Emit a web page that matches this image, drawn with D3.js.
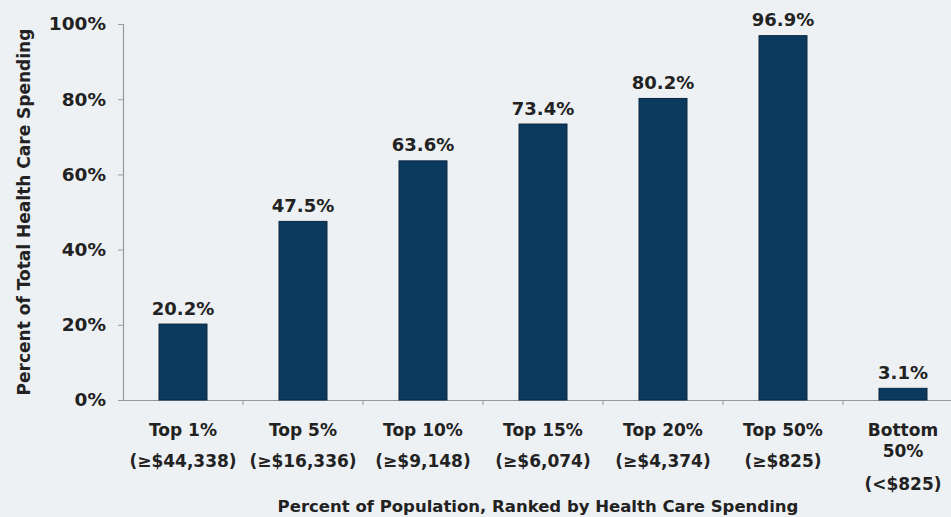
<!DOCTYPE html>
<html>
<head>
<meta charset="utf-8">
<script src="https://cdn.jsdelivr.net/npm/d3@7"></script>
<style>
  html, body { margin: 0; padding: 0; background: #eef1f4; }
  svg { display: block; }
  text { font-family: "DejaVu Sans", Verdana, sans-serif; font-weight: bold; fill: #222; }
</style>
</head>
<body>
<script>
// Share of total health care spending by population group
const groups = ["Top 1%", "Top 5%", "Top 10%", "Top 15%", "Top 20%", "Top 50%", "Bottom 50%"];
const groupLines = [
  ["Top 1%", "(≥$44,338)"],
  ["Top 5%", "(≥$16,336)"],
  ["Top 10%", "(≥$9,148)"],
  ["Top 15%", "(≥$6,074)"],
  ["Top 20%", "(≥$4,374)"],
  ["Top 50%", "(≥$825)"],
  ["Bottom", "50%", "(<$825)"]
];
const shares = [20.2, 47.5, 63.6, 73.4, 80.2, 96.9, 3.1];
const yTicks = [0, 20, 40, 60, 80, 100];

const W = 951, H = 517;
const svg = d3.select("body").append("svg").attr("width", W).attr("height", H);

const x = d3.scaleBand().domain(groups).range([123, 963]).paddingInner(0.6).paddingOuter(0.3);
const y = d3.scaleLinear().domain([0, 100]).range([400, 24]);

// y axis
const yAxis = svg.append("g").attr("transform", "translate(123,0)")
  .call(d3.axisLeft(y).tickValues(yTicks).tickFormat(d => d + "%").tickSize(5).tickPadding(12));
yAxis.select(".domain").attr("stroke", "#999").attr("stroke-width", 1.2);
yAxis.selectAll(".tick line").attr("stroke", "#999");
yAxis.selectAll(".tick text").attr("font-size", 18.5).attr("fill", "#222")
  .attr("font-family", "DejaVu Sans, Verdana, sans-serif").attr("font-weight", "bold");

// x axis: ticks at band boundaries
const step = x.step();
const boundaries = d3.range(groups.length + 1).map(i => 123 + i * step);
svg.append("line").attr("x1", 123).attr("x2", W).attr("y1", 400.5).attr("y2", 400.5)
  .attr("stroke", "#999").attr("stroke-width", 1.2);
svg.selectAll(".xtick").data(boundaries.slice(1)).join("line")
  .attr("class", "xtick")
  .attr("x1", d => d).attr("x2", d => d).attr("y1", 400).attr("y2", 405)
  .attr("stroke", "#999");

// bars
svg.selectAll(".bar").data(shares).join("rect")
  .attr("class", "bar")
  .attr("x", (d, i) => x(groups[i]))
  .attr("width", x.bandwidth())
  .attr("y", d => y(d))
  .attr("height", d => y(0) - y(d))
  .attr("fill", "#0c3a5e")
  .attr("stroke", "#0a2640")
  .attr("stroke-width", 1);

// value labels
svg.selectAll(".val").data(shares).join("text")
  .attr("class", "val")
  .attr("x", (d, i) => x(groups[i]) + x.bandwidth() / 2)
  .attr("y", d => y(d) - 9.5)
  .attr("text-anchor", "middle")
  .attr("font-size", 18)
  .text(d => d.toFixed(1) + "%");

// category labels
groupLines.forEach((lines, i) => {
  const cx = x(groups[i]) + x.bandwidth() / 2;
  const ys = lines.length === 2 ? [436, 467] : [436, 457, 490];
  lines.forEach((t, j) => {
    svg.append("text")
      .attr("x", cx).attr("y", ys[j])
      .attr("text-anchor", "middle")
      .attr("font-size", 17)
      .text(t);
  });
});

// axis titles
svg.append("text")
  .attr("transform", "translate(30,212) rotate(-90)")
  .attr("text-anchor", "middle")
  .attr("font-size", 17)
  .text("Percent of Total Health Care Spending");

svg.append("text")
  .attr("x", 538).attr("y", 512)
  .attr("text-anchor", "middle")
  .attr("font-size", 16.5)
  .text("Percent of Population, Ranked by Health Care Spending");
</script>
</body>
</html>
